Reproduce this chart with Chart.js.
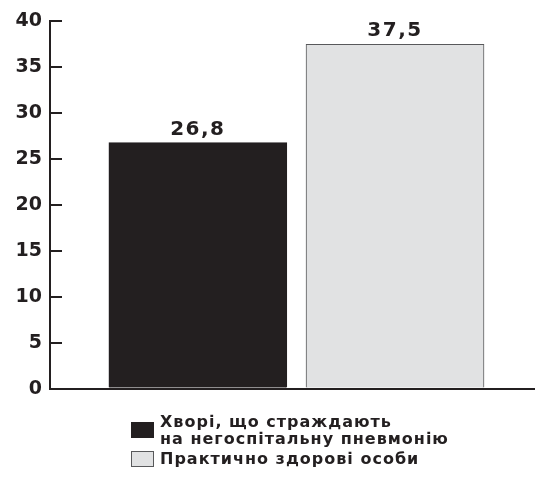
<!DOCTYPE html>
<html>
<head>
<meta charset="utf-8">
<script src="https://cdn.jsdelivr.net/npm/chart.js@4/dist/chart.umd.min.js"></script>
<style>
  html, body { margin: 0; padding: 0; background: #fff; }
  body { width: 535px; height: 488px; position: relative; overflow: hidden; }
  #wrap { position: absolute; left: 0; top: -10px; width: 535px; height: 430px; }
  #legend { position: absolute; left: 131px; top: 413px; font-family: "DejaVu Sans", sans-serif; font-weight: bold; font-size: 16px; line-height: 17px; letter-spacing: 1px; color: #231f20; }
  .item { position: relative; padding-left: 29px; margin-bottom: 3px; }
  .box { position: absolute; left: 0; width: 23px; height: 16px; box-sizing: border-box; }
</style>
</head>
<body>
<div id="wrap"><canvas id="c"></canvas></div>
<div id="legend"></div>
<script>
const categories = ["Хворі, що страждають\nна негоспітальну пневмонію", "Практично здорові особи"];
const values = [26.8, 37.5];
const valueLabels = ["26,8", "37,5"];
const yTicks = [0, 5, 10, 15, 20, 25, 30, 35, 40];

const fills = ["#231f20", "#e1e2e3"];
const borders = ["#231f20", "#58595b"];
const ink = "#231f20";

const labelPlugin = {
  id: "valueLabels",
  afterDatasetsDraw(chart) {
    const ctx = chart.ctx;
    const meta = chart.getDatasetMeta(0);
    ctx.save();
    ctx.font = "bold 20px 'DejaVu Sans'";
    ctx.fillStyle = ink;
    ctx.textAlign = "center";
    ctx.textBaseline = "alphabetic";
    if ("letterSpacing" in ctx) ctx.letterSpacing = "1.5px";
    meta.data.forEach((el, i) => {
      ctx.fillText(valueLabels[i], el.x, el.y - 8);
    });
    ctx.restore();
  }
};

new Chart(document.getElementById("c"), {
  type: "bar",
  data: {
    datasets: [{
      label: "values",
      data: values.map((v, i) => ({ x: i + 1, y: v })),
      backgroundColor: fills,
      borderColor: borders,
      borderWidth: 1,
      barThickness: 178
    }]
  },
  options: {
    responsive: true,
    maintainAspectRatio: false,
    animation: false,
    layout: { padding: { top: 10, right: 0, bottom: 12, left: 0 } },
    plugins: { legend: { display: false }, tooltip: { enabled: false } },
    scales: {
      x: {
        type: "linear",
        offset: false,
        min: 0.25,
        max: 2.71,
        ticks: { display: false },
        grid: { display: false, drawTicks: false, offset: false },
        border: { display: true, color: ink, width: 2 }
      },
      y: {
        min: 0,
        max: 40,
        afterBuildTicks(scale) { scale.ticks = yTicks.map(v => ({ value: v })); },
        afterFit(scale) { scale.width = 50; },
        ticks: {
          color: ink,
          padding: 20,
          font: { family: "DejaVu Sans", weight: "bold", size: 19 }
        },
        grid: { drawOnChartArea: false, drawTicks: true, tickLength: -12, color: ink, lineWidth: 2 },
        border: { display: true, color: ink, width: 2 }
      }
    }
  },
  plugins: [labelPlugin]
});

const legend = document.getElementById("legend");
categories.forEach((c, i) => {
  const item = document.createElement("div");
  item.className = "item";
  const box = document.createElement("span");
  box.className = "box";
  box.style.background = fills[i];
  box.style.border = "1px solid " + borders[i];
  box.style.top = (i === 0 ? 9 : 1) + "px";
  item.appendChild(box);
  c.split("\n").forEach(line => {
    const d = document.createElement("div");
    d.textContent = line;
    item.appendChild(d);
  });
  legend.appendChild(item);
});
</script>
</body>
</html>
